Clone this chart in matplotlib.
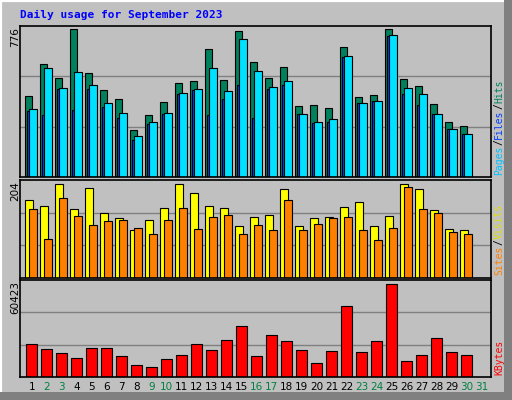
import matplotlib
matplotlib.use("Agg")
import matplotlib.pyplot as plt
from matplotlib.patches import Rectangle

days = list(range(1, 32))
hits = [423, 593, 518, 776, 544, 455, 407, 244, 323, 392, 492, 502, 671, 507, 766,
        602, 518, 576, 371, 376, 360, 681, 418, 428, 776, 512, 476, 381, 286, 265]
files = [355, 571, 465, 550, 481, 386, 334, 213, 286, 334, 439, 460, 571, 450, 723,
         555, 471, 502, 328, 286, 302, 634, 386, 397, 744, 465, 434, 328, 249, 223]
pages = [347, 325, 462, 351, 462, 367, 307, 193, 276, 328, 435, 455, 323, 409, 483,
         307, 462, 483, 328, 281, 286, 628, 389, 397, 740, 435, 376, 328, 249, 223]
visits = [168, 156, 203, 150, 194, 141, 130, 103, 125, 152, 203, 183, 156, 152, 112,
          132, 136, 192, 112, 130, 132, 154, 165, 112, 134, 204, 192, 147, 105, 103]
sites = [150, 85, 174, 134, 114, 123, 125, 109, 96, 125, 152, 105, 133, 137, 96,
         114, 103, 168, 103, 116, 130, 133, 103, 83, 109, 198, 150, 141, 100, 96]
kbytes = [21550, 18250, 15620, 12320, 18910, 18910, 13640, 7710, 6390, 11660, 14300,
          21550, 17590, 24180, 32750, 13640, 27480, 23520, 17590, 9030, 16930, 45930,
          16280, 23520, 60423, 10340, 14300, 25500, 16280, 14300]
weekend_days = [2, 3, 9, 10, 16, 17, 23, 24, 30, 31]

BG = "#C0C0C0"
W, H = 512, 400
fig = plt.figure(figsize=(W / 100, H / 100), dpi=100)
fig.patch.set_facecolor(BG)

# 3d-ish outer border
fig.add_artist(Rectangle((0, 0), 1, 1, transform=fig.transFigure, fill=False,
                         edgecolor="white", lw=3))
fig.add_artist(Rectangle((504 / W, 0), 8 / W, 1, transform=fig.transFigure,
                         facecolor="#808080", edgecolor="none"))
fig.add_artist(Rectangle((0, 0), 1, 8 / H, transform=fig.transFigure,
                         facecolor="#808080", edgecolor="none"))


def make_ax(top, bottom):
    ax = fig.add_axes([20 / W, 1 - bottom / H, 471 / W, (bottom - top) / H])
    ax.set_facecolor(BG)
    ax.set_xlim(-0.333, 31.07)
    ax.set_xticks([])
    ax.set_yticks([])
    for s in ax.spines.values():
        s.set_linewidth(1.2)
    return ax


x0 = [d - 1 for d in days[:len(hits)]]

ax1 = make_ax(26, 177)
top1 = max(hits) * 1.02
ax1.set_ylim(0, top1)
for g in (top1 / 3, top1 * 2 / 3):
    ax1.axhline(g, color="#808080", lw=1, zorder=0)
ax1.bar([x for x in x0], hits, width=0.5, align="edge", color="#00805c", edgecolor="black", lw=0.8)
ax1.bar([x + 0.13 for x in x0], pages, width=0.5, align="edge", color="#0040ff", edgecolor="black", lw=0.8)
ax1.bar([x + 0.27 for x in x0], files, width=0.5, align="edge", color="#00e0ff", edgecolor="black", lw=0.8)

ax2 = make_ax(180, 278)
top2 = max(visits) * 1.04
ax2.set_ylim(0, top2)
for g in (top2 / 3, top2 * 2 / 3):
    ax2.axhline(g, color="#808080", lw=1, zorder=0)
ax2.bar(x0, visits, width=0.52, align="edge", color="#ffff00", edgecolor="black", lw=0.8)
ax2.bar([x + 0.27 for x in x0], sites, width=0.5, align="edge", color="#ff8000", edgecolor="black", lw=0.8)

ax3 = make_ax(280, 377)
top3 = max(kbytes) * 1.04
ax3.set_ylim(0, top3)
for g in (top3 / 3, top3 * 2 / 3):
    ax3.axhline(g, color="#808080", lw=1, zorder=0)
ax3.bar([x + 0.07 for x in x0], kbytes, width=0.7, align="edge", color="#ff0000", edgecolor="black", lw=0.8)

# day labels
for d in days:
    col = "#008040" if d in weekend_days else "black"
    ax3.text(d - 1 + 0.45, -0.05, str(d), transform=ax3.get_xaxis_transform(),
             ha="center", va="top", fontsize=7.5, color=col)

# title and axis max labels
fig.text(20 / W, 1 - 15 / H, "Daily usage for September 2023", color="#0000ff",
         fontsize=8, fontweight="bold", family="DejaVu Sans Mono", va="center")
for txt, ytop in (("776", 27), ("204", 181), ("60423", 281)):
    fig.text(15 / W, 1 - ytop / H, txt, rotation=90, ha="center", va="top", fontsize=7.5)


def right_label(parts, ybottom):
    y = 1 - ybottom / H
    for txt, col in parts:
        t = fig.text(499 / W, y, txt, rotation=90, ha="center", va="bottom",
                     color=col, fontsize=7, family="DejaVu Sans Mono")
        y += len(txt) * 6.0 / H


right_label([("Pages", "#00c0ff"), ("/", "black"), ("Files", "#0040ff"),
             ("/", "black"), ("Hits", "#00805c")], 175)
right_label([("Sites", "#ff8000"), ("/", "black"), ("Visits", "#e0e000")], 275)
right_label([("KBytes", "#ff0000")], 375)

fig.savefig("out.png", dpi=100, facecolor=BG)
